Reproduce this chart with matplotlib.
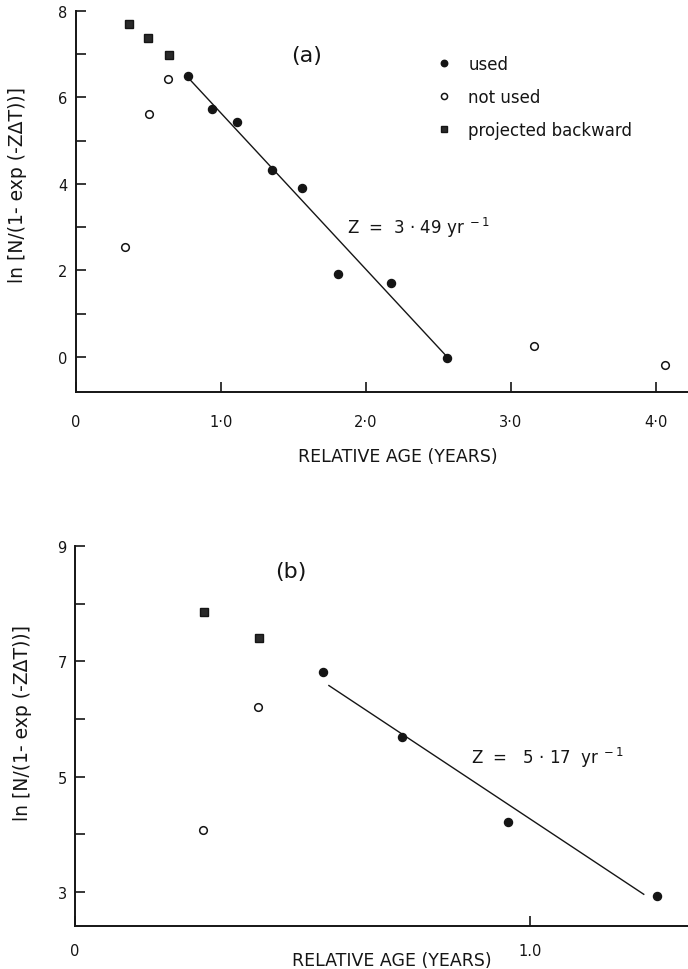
import matplotlib
matplotlib.use("Agg")
import matplotlib.pyplot as plt

# ---------------- data: panel (a) ----------------
a_used_x = [0.77, 0.94, 1.11, 1.35, 1.56, 1.81, 2.17, 2.56]
a_used_y = [6.49, 5.74, 5.44, 4.33, 3.91, 1.92, 1.71, -0.02]
a_notused_x = [0.34, 0.50, 0.635, 3.16, 4.06]
a_notused_y = [2.55, 5.62, 6.43, 0.25, -0.19]
a_proj_x = [0.366, 0.497, 0.641]
a_proj_y = [7.69, 7.38, 6.99]
a_fit_x = [0.77, 2.56]
a_fit_y = [6.47, 0.0]
a_xticks = [0, 1, 2, 3, 4]
a_xticklabels = ["0", "1·0", "2·0", "3·0", "4·0"]
a_yticks = [0, 1, 2, 3, 4, 5, 6, 7, 8]
a_yticklabels = ["0", "", "2", "", "4", "", "6", "", "8"]

# ---------------- data: panel (b) ----------------
b_used_x = [0.545, 0.719, 0.952, 1.279]
b_used_y = [6.82, 5.68, 4.22, 2.93]
b_notused_x = [0.281, 0.402]
b_notused_y = [4.07, 6.20]
b_proj_x = [0.284, 0.405]
b_proj_y = [7.86, 7.41]
b_fit_x = [0.558, 1.25]
b_fit_y = [6.58, 2.96]
b_xticks = [0, 1.0]
b_xticklabels = ["0", "1.0"]
b_yticks = [3, 4, 5, 6, 7, 8, 9]
b_yticklabels = ["3", "", "5", "", "7", "", "9"]

ylabel = "ln [N/(1- exp (-Z\u0394T))]"
xlabel = "RELATIVE AGE (YEARS)"
ink = "#151515"

plt.rcParams['font.family'] = ['DejaVu Sans']
fig = plt.figure(figsize=(6.88, 9.70), dpi=100, facecolor="white")

W, H = 688, 970
def axes_px(l, t, r, b):
    return fig.add_axes([l / W, 1 - b / H, (r - l) / W, (b - t) / H])

def style(ax, xlim, ylim, xticks, xtl, yticks, ytl, xpad):
    ax.set_xlim(*xlim)
    ax.set_ylim(*ylim)
    for s in ["top", "right"]:
        ax.spines[s].set_visible(False)
    for s in ["left", "bottom"]:
        ax.spines[s].set_linewidth(1.4)
        ax.spines[s].set_color(ink)
    ax.set_xticks(xticks)
    ax.set_xticklabels(xtl)
    ax.set_yticks(yticks)
    ax.set_yticklabels(ytl)
    ax.tick_params(axis="both", direction="in", length=7, width=1.2,
                   colors=ink, labelsize=10.5)
    ax.tick_params(axis="x", pad=xpad)
    ax.tick_params(axis="y", pad=6)
    ax.set_facecolor("none")

def draw(ax, ux, uy, nx, ny, px, py, fx, fy):
    ax.plot(fx, fy, color=ink, lw=1.0, zorder=2)
    ax.plot(ux, uy, "o", ms=5.8, color=ink, mec=ink, zorder=3, label="used")
    ax.plot(nx, ny, "o", ms=5.5, mfc="white", mec=ink, mew=1.1, zorder=3, label="not used")
    ax.plot(px, py, "s", ms=5.5, color="#2a2a2a", mec=ink, zorder=3, label="projected backward")

# ---------------- panel (a) ----------------
axa = axes_px(76, 12, 688, 393)
draw(axa, a_used_x, a_used_y, a_notused_x, a_notused_y, a_proj_x, a_proj_y, a_fit_x, a_fit_y)
style(axa, (0, 612 / 145), (-0.81, 8.0), a_xticks, a_xticklabels, a_yticks, a_yticklabels, 16)
axa.set_ylabel(ylabel, fontsize=13.5, color=ink)
axa.yaxis.set_label_coords(-0.08, 0.545)
axa.set_xlabel(xlabel, fontsize=12.5, color=ink)
axa.xaxis.set_label_coords(0.526, -0.145)
axa.text(1.59, 6.98, "(a)", fontsize=16, color=ink, ha="center", va="center")
axa.text(1.87, 3.00, "Z  =  3 · 49 yr$^{\\,\\,-1}$", fontsize=12, color=ink, ha="left", va="center")
leg = axa.legend(loc="upper left", bbox_to_anchor=(436 / W, 1 - 56 / H),
                 bbox_transform=fig.transFigure, frameon=False, fontsize=12,
                 handlelength=1.0, handletextpad=0.95, labelspacing=0.9,
                 borderpad=0, borderaxespad=0, markerscale=0.8)
for t in leg.get_texts():
    t.set_color(ink)

# ---------------- panel (b) ----------------
axb = axes_px(75, 547, 688, 927)
draw(axb, b_used_x, b_used_y, b_notused_x, b_notused_y, b_proj_x, b_proj_y, b_fit_x, b_fit_y)
style(axb, (0, 613 / 455), (2.41, 9.0), b_xticks, b_xticklabels, b_yticks, b_yticklabels, 12)
axb.set_ylabel(ylabel, fontsize=13.5, color=ink)
axb.yaxis.set_label_coords(-0.07, 0.537)
axb.set_xlabel(xlabel, fontsize=12.5, color=ink)
axb.xaxis.set_label_coords(0.517, -0.065)
axb.text(0.475, 8.57, "(b)", fontsize=16, color=ink, ha="center", va="center")
axb.text(0.87, 5.35, "Z  =   5 · 17  yr$^{\\,\\,-1}$", fontsize=12, color=ink, ha="left", va="center")

fig.savefig("out.png", dpi=100, facecolor="white")
